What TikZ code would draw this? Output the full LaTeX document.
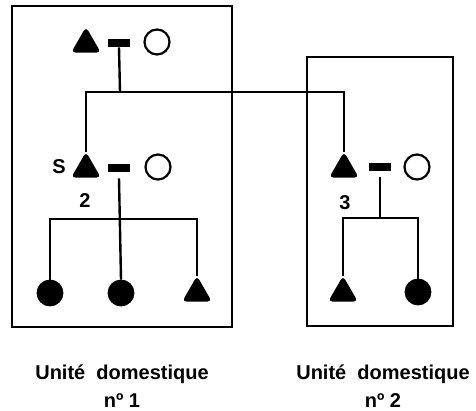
\documentclass[tikz,border=0pt]{standalone}
\usepackage{fontspec}
\setmainfont{Liberation Sans}
\usepackage{tikz}
\usetikzlibrary{shapes.geometric}

\begin{document}
\begin{tikzpicture}[
      x=0.5pt, y=-0.5pt,
      font=\bfseries\fontsize{10}{12}\selectfont,
      man/.style={regular polygon, regular polygon sides=3, fill, draw, line width=0.8pt,
        rounded corners=1.5pt, inner sep=0pt, minimum size=15.5pt},
      woman/.style={circle, draw, line width=1.1pt, inner sep=0pt, minimum size=12.5pt},
      girl/.style={circle, fill, draw, inner sep=0pt, minimum size=13pt},
      wed/.style={inner sep=0pt, minimum width=11pt, minimum height=4pt,
        path picture={\fill (path picture bounding box.north west) rectangle ++(11pt,-1.8pt);
          \fill (path picture bounding box.south west) rectangle ++(11pt,1.8pt);}},
      link/.style={line width=1.2pt},
      unit/.style={line width=1.4pt}
    ]
    \useasboundingbox (0,0) rectangle (476,411);
    % domestic units
    \draw[unit] (12,6) rectangle (232,327);
    \draw[unit, line width=0.9pt] (307,57) rectangle (453,326);
    % first couple
    \node[man] (h1) at (86,44) {};
    \node[wed] (m1) at (119,43) {};
    \node[woman] (f1) at (157,42) {};
    % unit 1
    \node[man] (h2) at (86,169) {};
    \node[wed] (m2) at (119,168) {};
    \node[woman] (f2) at (158,167) {};
    \node (n5) at (59,167) {S};
    \node (n2) at (85,201) {2};
    \node[girl] (c1) at (50,293) {};
    \node[girl] (c2) at (121,293) {};
    \node[man] (c3) at (197,293) {};
    % unit 2
    \node[man] (h3) at (344,169) {};
    \node[wed] (m3) at (380,167) {};
    \node[woman] (f3) at (417,167) {};
    \node (n3) at (345,203) {3};
    \node[man] (c4) at (343,293) {};
    \node[girl] (c5) at (418,292) {};
    % descent lines
    \coordinate (j1) at (120,92);
    \coordinate (j2) at (120,219);
    \coordinate (j3) at (380,218);
    \draw[link] (m1.south) -- (j1);
    \draw[link] (h2.north) |- (j1) -| (h3.north);
    \draw[link] (m2.south) ++(0,6) -- (c2.north);
    \draw[link] (c1.north) |- (j2) -| (c3.north);
    \draw[link] (m3.south) ++(0,6) -- (j3);
    \draw[link] (c4.north) |- (j3) -| (c5.north);
    % captions
    \node[align=center] (u1) at (122,386) {Unité~~domestique\\[2pt]nº 1};
    \node[align=center] (u2) at (383,386) {Unité~~domestique\\[2pt]nº 2};
  \end{tikzpicture}
\end{document}
